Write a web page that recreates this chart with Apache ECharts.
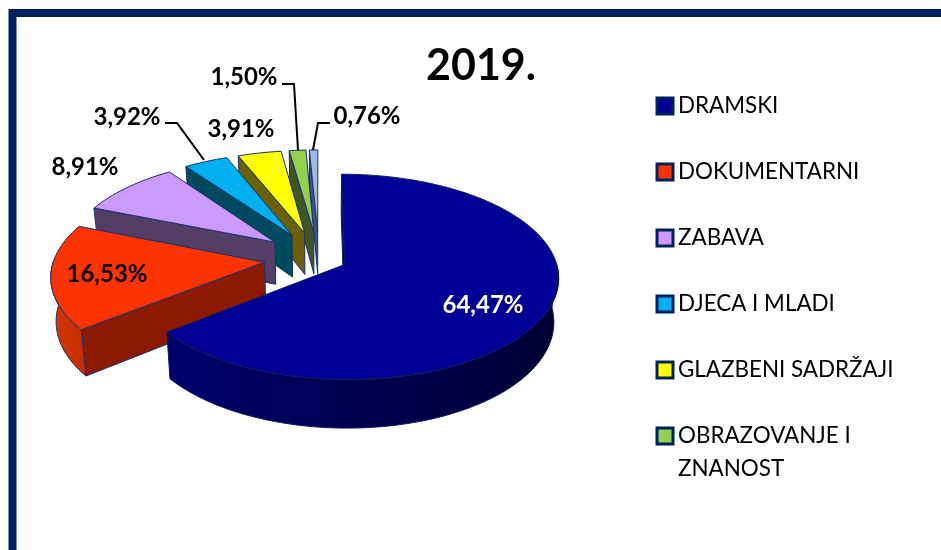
<!DOCTYPE html>
<html>
<head>
<meta charset="utf-8">
<style>html,body{margin:0;padding:0;background:#fff}#c{width:941px;height:550px}</style>
<script src="https://cdn.jsdelivr.net/npm/echarts@6/dist/echarts.min.js"></script>
</head>
<body>
<div id="c"></div>
<script>
// ---- data ----
const year = '2019.';
const categories = ['DRAMSKI', 'DOKUMENTARNI', 'ZABAVA', 'DJECA I MLADI', 'GLAZBENI SADRŽAJI', 'OBRAZOVANJE I ZNANOST', 'OSTALO'];
const values = [64.47, 16.53, 8.91, 3.92, 3.91, 1.50, 0.76];

// ---- styles ----
const topColors = ['#000096', '#FF3300', '#CC99FF', '#00B0F0', '#FFFF00', '#92D050', '#9DB8E3'];
const sideColors = ['#00004D', '#8B1A00', '#533E66', '#004A60', '#6B6100', '#3F5626', '#3D5585'];
const wallFrom = ['#00006C', '#D63400', '#533E66', '#004A60', '#6B6100', '#3F5626', '#3D5585'];
const wallTo = ['#000034', '#C42E00', '#533E66', '#004A60', '#6B6100', '#3F5626', '#3D5585'];
const edgeColors = ['#0B1E5C', '#17326E', '#17326E', '#17326E', '#17326E', '#17326E', '#17326E'];
const explode = [0.135, 0.26, 0.27, 0.27, 0.27, 0.27, 0.27];
const FRAME = '#002060', FONT = 'Lato, Carlito, sans-serif';

// ---- projection of the tilted pie ----
const G = { x: 319, y: 258.5, rx: 210.5, ry: 101.2, p: 0.122, depth: 43, shrink: 0.98 };
const labelAt = [[483, 305, '#fff'], [107, 274], [85, 167], [127, 117], [241, 129], [244, 77], [367, 116]];
const leaders = [null, null, null,
  [[165, 123], [177, 123], [204, 160]], null,
  [[282, 84], [294, 84], [298, 150]],
  [[330, 123], [318, 123], [313, 150]]];

const total = values.reduce((a, b) => a + b, 0);
const spans = [];
values.reduce((s, v) => { const e = s + v / total * 360; spans.push([s, e]); return e; }, 0);

function project(u, w, low) {
  const f = 1 + G.p * w;
  const x = G.x + G.rx * u * f, y = G.y + G.ry * w * f;
  return low ? [G.x + (x - G.x) * G.shrink, y + G.depth * f] : [x, y];
}
function rad(d) { return d * Math.PI / 180; }
function point(i, deg, r, low) {
  const m = rad((spans[i][0] + spans[i][1]) / 2), a = rad(deg);
  const e = explode[i];
  return project(e * Math.sin(m) + r * Math.sin(a), -e * Math.cos(m) - r * Math.cos(a), low);
}
function arc(i, a, b, low) {
  const pts = [], n = Math.max(2, Math.ceil((b - a) / 2));
  for (let k = 0; k <= n; k++) pts.push(point(i, a + (b - a) * k / n, 1, low));
  return pts;
}
function poly(points, fill, stroke) {
  return { type: 'polygon', silent: true, shape: { points },
    style: { fill, stroke, lineWidth: 1, lineJoin: 'round' } };
}
function renderSlice(params, api) {
  const i = order[params.seriesIndex];
  const [a, b] = spans[i];
  const children = [];
  // cut face along the start edge
  children.push(poly([point(i, a, 0, false), point(i, a, 1, false), point(i, a, 1, true), point(i, a, 0, true)], sideColors[i], edgeColors[i]));
  // outer wall (only the part that faces the viewer)
  const wa = Math.max(a, 90), wb = Math.min(b, 270);
  if (wb > wa) {
    const grad = i === 0
      ? new echarts.graphic.LinearGradient(1, 0, 0, 0, [{ offset: 0, color: wallTo[i] }, { offset: 1, color: wallFrom[i] }])
      : new echarts.graphic.LinearGradient(0, 0, 1, 0, [{ offset: 0, color: wallFrom[i] }, { offset: 1, color: wallTo[i] }]);
    children.push(poly(arc(i, wa, wb, false).concat(arc(i, wa, wb, true).reverse()), grad, edgeColors[i]));
  }
  // top face
  children.push(poly([point(i, a, 0, false)].concat(arc(i, a, b, false)), topColors[i], edgeColors[i]));
  // data label and leader line
  if (leaders[i]) children.push({ type: 'polyline', silent: true, shape: { points: leaders[i] },
    style: { fill: null, stroke: '#000', lineWidth: 2 } });
  children.push({ type: 'text', silent: true, style: {
    text: api.value(0).toFixed(2).replace('.', ',') + '%',
    x: labelAt[i][0], y: labelAt[i][1], align: 'center', verticalAlign: 'middle',
    font: 'bold 24px ' + FONT, fill: labelAt[i][2] || '#000' } });
  return { type: 'group', children };
}

// painter's order: the far small slices first, the big front slice last
const order = [6, 5, 4, 3, 2, 1, 0];

function legendEntry(i) {
  return { name: categories[i], icon: 'rect',
    itemStyle: { color: topColors[i], borderColor: FRAME, borderWidth: 3 } };
}
const legendBase = { orient: 'vertical', left: 655.5, padding: 0, itemWidth: 16, itemHeight: 16,
  itemGap: 42, selectedMode: false, textStyle: { fontFamily: FONT, fontSize: 22.4, color: '#000', lineHeight: 24 } };

const chart = echarts.init(document.getElementById('c'), null, { renderer: 'canvas' });
chart.setOption({
  animation: false,
  backgroundColor: '#fff',
  title: { text: year, left: 481, top: 66, textAlign: 'center', textVerticalAlign: 'middle', padding: 0,
    textStyle: { fontFamily: FONT, fontWeight: 'bold', fontSize: 43, color: '#000' } },
  legend: [
    Object.assign({}, legendBase, { top: 94, data: [0, 1, 2, 3, 4].map(legendEntry) }),
    Object.assign({}, legendBase, { top: 386.5, data: [legendEntry(5)],
      formatter: () => '\nOBRAZOVANJE I\nZNANOST',
      textStyle: Object.assign({}, legendBase.textStyle, { lineHeight: 33 }) })
  ],
  graphic: [{ type: 'rect', silent: true, z: -1, shape: { x: 12.5, y: 13, width: 1100, height: 1100 },
    style: { fill: '#fff', stroke: FRAME, lineWidth: 8 } }],
  series: order.map(i => ({
    type: 'custom', name: categories[i], coordinateSystem: 'none', clip: false,
    renderItem: renderSlice, data: [[values[i]]],
    itemStyle: { color: topColors[i] }
  }))
});
</script>
</body>
</html>
